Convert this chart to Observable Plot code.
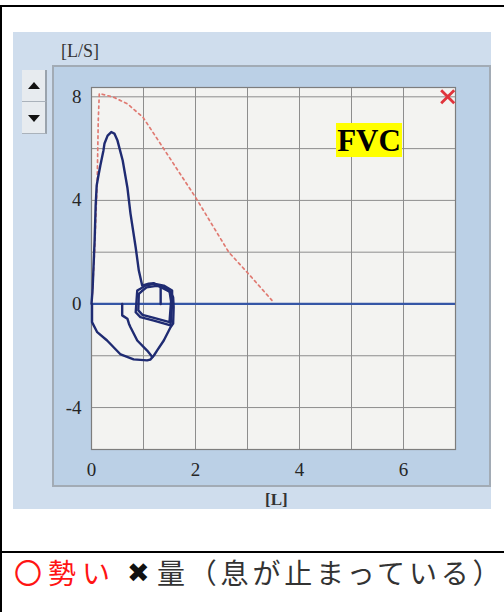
<!DOCTYPE html>
<html>
<head>
<meta charset="utf-8">
<script src="https://cdn.jsdelivr.net/npm/d3@7"></script>
<script src="https://cdn.jsdelivr.net/npm/@observablehq/plot@0.6"></script>
<style>
  html, body { margin: 0; padding: 0; background: #fff; }
  #page { position: relative; width: 504px; height: 612px; overflow: hidden; background: #fff; }
  .abs { position: absolute; }
  #panel { left: 13px; top: 32px; width: 478px; height: 477px; background: #cfdded; overflow: hidden; }
  #inner { left: 52px; top: 65px; width: 435px; height: 418px; background: #bbd0e6; border: 2px solid #a2abb5; }
  .btn { left: 22px; width: 23px; height: 31px; background: #e7ebef; border-right: 2px solid #9aa3ad; border-bottom: 1px solid #aab2bb; }
  .tri { position: absolute; left: 6px; width: 0; height: 0; border-left: 6px solid transparent; border-right: 6px solid transparent; }
  #lbly { left: 61px; top: 42px; font: 18px "Liberation Serif", serif; color: #333; line-height: 18px; }
  #lblx { left: 265px; top: 491px; font: bold 17px "Liberation Serif", serif; color: #333; line-height: 17px; }
  #fvc { left: 336px; top: 123px; width: 66px; height: 34px; background: #ffff00; font: bold 31px "Liberation Serif", serif; color: #000; line-height: 35px; text-align: center; }
  #chart { left: 0; top: 0; }
  .cap { top: 557px; font-family: "Noto Sans CJK JP", sans-serif; font-size: 28px; line-height: 30px; white-space: nowrap; }
</style>
</head>
<body>
<div id="page">
  <div class="abs" style="left:0;top:5px;width:504px;height:2px;background:#000"></div>
  <div class="abs" style="left:0;top:5px;width:2px;height:607px;background:#000"></div>
  <div class="abs" style="left:0;top:551px;width:504px;height:2px;background:#000"></div>
  <div id="panel" class="abs"></div>
  <div id="inner" class="abs"></div>
  <div id="lblx" class="abs">[L]</div>
  <div class="abs btn" style="top:70px"><div class="tri" style="top:12px;border-bottom:7px solid #111"></div></div>
  <div class="abs btn" style="top:102px"><div class="tri" style="top:13px;border-top:7px solid #111"></div></div>
  <div id="lbly" class="abs">[L/S]</div>
  <div id="chart" class="abs"></div>
  <div id="fvc" class="abs">FVC</div>
  <div class="abs cap" style="left:14px;color:#ff1414;letter-spacing:6px">〇勢<span style="letter-spacing:0">い</span></div>
  <div class="abs cap" style="left:127px;top:558px;color:#111;font-family:'DejaVu Sans',sans-serif;font-size:27px">✖</div>
  <div class="abs cap" style="left:157px;color:#333;letter-spacing:3.8px">量（息が止まっている<span style="letter-spacing:0">）</span></div>
</div>
<script>
// Axis ticks and gridlines
const xTicks = [0, 2, 4, 6];
const yTicks = [-4, 0, 4, 8];
const xGrid = [0, 1, 2, 3, 4, 5, 6, 7];
const yGrid = [-4, -2, 0, 2, 4, 6, 8];

// Measured flow-volume trace: expiration + outer inspiratory loop
const traceVol  = [0, 0.02, 0.04, 0.06, 0.08, 0.10, 0.13, 0.17, 0.19, 0.23, 0.25, 0.31, 0.38, 0.44, 0.50, 0.60, 0.69, 0.75, 0.85, 0.91, 0.975, 1.1, 1.2, 1.39, 1.52, 1.57, 1.58, 1.57, 1.52, 1.39, 1.26, 1.2, 1.13, 1.07, 0.81, 0.56, 0.30, 0.11, 0.01, 0.01];
const traceFlow = [0, 0.52, 1.49, 2.45, 3.80, 4.58, 4.92, 5.35, 5.54, 5.93, 6.20, 6.50, 6.64, 6.58, 6.31, 5.54, 4.50, 3.49, 2.18, 1.29, 0.71, 0.78, 0.80, 0.59, 0.46, 0.26, -0.12, -0.76, -0.90, -1.41, -1.80, -1.99, -2.15, -2.18, -2.14, -1.95, -1.41, -1.09, -0.70, 0];

// Small tidal loops
const loopAVol  = [0.94, 0.88, 0.85, 0.94, 1.2, 1.52, 1.55, 1.55, 1.39, 1.2, 1.04, 0.94];
const loopAFlow = [0.59, 0.52, -0.32, -0.51, -0.64, -0.83, 0, 0.52, 0.71, 0.78, 0.71, 0.59];
const loopBVol  = [0.97, 0.91, 0.90, 0.98, 1.2, 1.5, 1.53, 1.5, 1.4, 1.25, 1.06, 0.97];
const loopBFlow = [0.5, 0.39, -0.25, -0.42, -0.54, -0.70, 0.1, 0.5, 0.64, 0.70, 0.64, 0.5];
const tickVol   = [1.33, 1.33];
const tickFlow  = [0.62, 0];
const innerVol  = [0.59, 0.59, 0.69, 0.72, 0.75, 0.88, 1.07, 1.17];
const innerFlow = [0, -0.44, -0.57, -0.76, -0.90, -1.41, -1.80, -2.05];

// Predicted curve (red dashed)
const predVol  = [0.01, 0.06, 0.11, 0.13, 0.15, 0.17, 0.43, 0.69, 0.99, 1.39, 2.0, 2.64, 2.99, 3.47];
const predFlow = [0.14, 2.07, 4.77, 7.09, 8.13, 8.12, 7.98, 7.73, 7.21, 5.99, 4.12, 2.0, 1.23, 0.14];

// Marker (red cross, top right)
const crossVol = [6.85];
const crossFlow = [8.0];

const seg = (name, vs, fs) => vs.map((v, i) => ({seg: name, vol: v, flow: fs[i]}));
const blue = [
  ...seg("trace", traceVol, traceFlow),
  ...seg("loopA", loopAVol, loopAFlow),
  ...seg("loopB", loopBVol, loopBFlow),
  ...seg("tick", tickVol, tickFlow),
  ...seg("inner", innerVol, innerFlow)
];
const pred = seg("pred", predVol, predFlow);
const cross = seg("cross", crossVol, crossFlow);

const fmt = d => String(d);

const chart = Plot.plot({
  width: 504,
  height: 612,
  marginLeft: 91,
  marginRight: 49,
  marginTop: 87,
  marginBottom: 163,
  x: {domain: [0, 7]},
  y: {domain: [-5.62, 8.36]},
  style: {background: "transparent", fontFamily: "Liberation Serif, serif", overflow: "visible"},
  marks: [
    Plot.frame({fill: "#f3f3f1", stroke: null}),
    Plot.gridX(xGrid, {stroke: "#8d8d8d", strokeOpacity: 1, strokeWidth: 1}),
    Plot.gridY(yGrid, {stroke: "#8d8d8d", strokeOpacity: 1, strokeWidth: 1}),
    Plot.frame({stroke: "#7d7d7d", strokeWidth: 1.2}),
    Plot.axisX({ticks: xTicks, tickFormat: fmt, tickSize: 0, tickPadding: 13, label: null, fontSize: 19, fill: "#262626"}),
    Plot.axisY({ticks: yTicks, tickFormat: fmt, tickSize: 0, tickPadding: 10, label: null, fontSize: 19, fill: "#262626"}),
    Plot.line(pred, {x: "vol", y: "flow", stroke: "#e07a72", strokeWidth: 1.7, strokeDasharray: "2.5,3.5"}),
    Plot.ruleY([0], {stroke: "#3556a6", strokeWidth: 2.2}),
    Plot.line(blue, {x: "vol", y: "flow", z: "seg", stroke: "#1f2b72", strokeWidth: 2.4, strokeLinejoin: "round"}),
    Plot.dot(cross, {x: "vol", y: "flow", symbol: "times", r: 6, stroke: "#e0343c", strokeWidth: 2.8})
  ]
});
document.getElementById("chart").appendChild(chart);
</script>
</body>
</html>
